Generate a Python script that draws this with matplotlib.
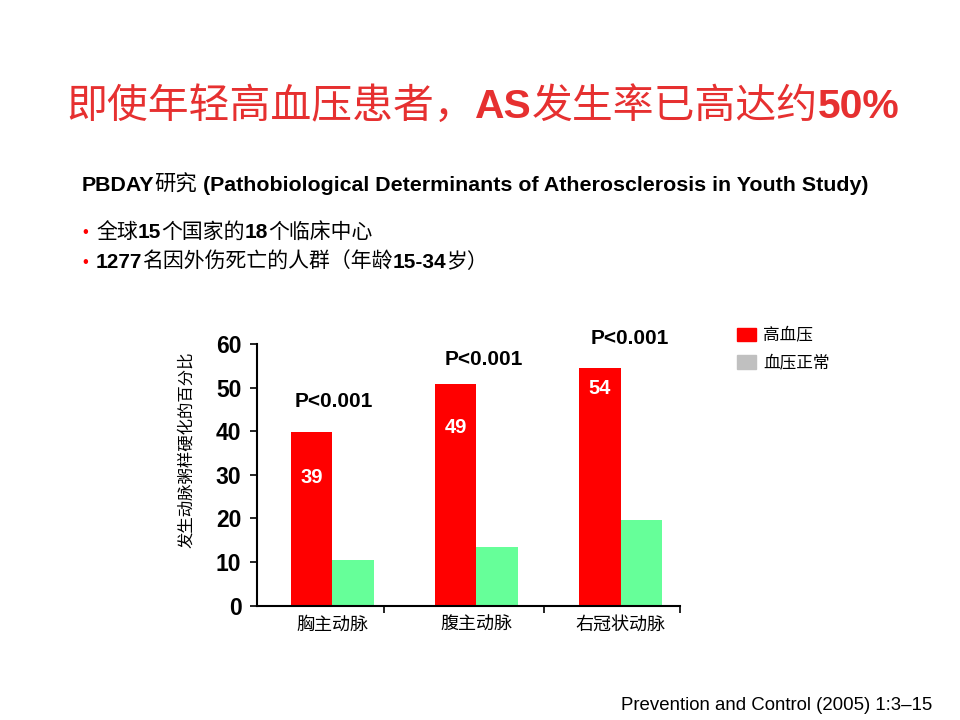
import matplotlib
matplotlib.use("Agg")
import matplotlib.pyplot as plt
import numpy as np
from matplotlib.patches import Patch

plt.rcParams['font.family'] = ['Liberation Sans', 'Noto Sans CJK SC', 'DejaVu Sans']

# data
categories = ['胸主动脉', '腹主动脉', '右冠状动脉']
hypertension = [39.8, 50.8, 54.4]
normal_bp = [10.5, 13.4, 19.6]
bar_labels = ['39', '49', '54']
p_labels = ['P<0.001', 'P<0.001', 'P<0.001']
series_names = ['高血压', '血压正常']

RED = '#ff0000'
GREEN = '#66ff99'
LEGEND_GRAY = '#c0c0c0'
TITLE_RED = '#e63030'
CJK = ['Noto Sans CJK SC', 'DejaVu Sans']
LAT = ['Liberation Sans', 'Noto Sans CJK SC']

W, H = 960, 720
fig = plt.figure(figsize=(9.6, 7.2), dpi=100)
renderer = fig.canvas.get_renderer()


def rich_text(x_px, y_px, parts, size, color='black'):
    # parts: (text, bold?) drawn one after another on the same baseline
    x = x_px
    for s, bold in parts:
        fam = LAT if bold else CJK
        t = fig.text(x / W, 1 - y_px / H, s, fontsize=size, color=color,
                     fontweight='bold' if bold else 'normal', family=fam,
                     ha='left', va='baseline')
        x += t.get_window_extent(renderer).width


# title
rich_text(66, 118, [('即使年轻高血压患者，', False), ('AS', True),
                    ('发生率已高达约', False), ('50%', True)], 29.4, TITLE_RED)

# subtitle and bullets
rich_text(82, 191, [('PBDAY', True), ('研究', False),
                    (' (Pathobiological Determinants of Atherosclerosis in Youth Study)', True)], 15.4)
fig.text(82 / W, 1 - 237 / H, '•', color=RED, fontsize=12, va='baseline', family=LAT)
rich_text(96, 238, [('全球', False), ('15', True), ('个国家的', False), ('18', True),
                    ('个临床中心', False)], 15)
fig.text(82 / W, 1 - 267 / H, '•', color=RED, fontsize=12, va='baseline', family=LAT)
rich_text(96, 268, [('1277', True), ('名因外伤死亡的人群（年龄', False), ('15-34', True),
                    ('岁）', False)], 15)

# chart
ax = fig.add_axes([0.2674, 0.1588, 0.4409, 0.3634])
x = np.arange(len(categories))
w = 0.288
ax.bar(x - w / 2, hypertension, w, color=RED, label=series_names[0])
ax.bar(x + w / 2, normal_bp, w, color=GREEN, label=series_names[1])

label_y = [29.4, 40.9, 49.7]
for xi, lab, ly in zip(x, bar_labels, label_y):
    ax.text(xi - w / 2, ly, lab, color='white', fontsize=14.5, fontweight='bold',
            ha='center', va='center')

p_pos = [(0.01, 46.8), (1.05, 56.4), (2.06, 61.3)]
for (px, py), lab in zip(p_pos, p_labels):
    ax.text(px, py, lab, fontsize=15, fontweight='bold', ha='center', va='center',
            clip_on=False)

ax.set_xlim(-0.523, 2.41)
ax.set_ylim(0, 60)
ax.set_yticks(np.arange(0, 61, 10))
ax.tick_params(axis='y', labelsize=16.5, width=1.2, length=5, direction='out', pad=6)
for lab in ax.get_yticklabels():
    lab.set_fontweight('bold')
ax.set_xticks(x)
ax.set_xticklabels(categories, family=CJK, fontsize=13)
ax.tick_params(axis='x', which='major', length=0, pad=7)
ax.set_xticks([0.36, 1.47, 2.41], minor=True)
ax.tick_params(axis='x', which='minor', length=5, width=1.2, direction='out')
for side in ['top', 'right']:
    ax.spines[side].set_visible(False)
for side in ['left', 'bottom']:
    ax.spines[side].set_linewidth(1.5)

fig.text(187 / W, 1 - 450 / H, '发生动脉粥样硬化的百分比', rotation=90, family=CJK,
         fontsize=11.8, ha='center', va='center')

handles = [Patch(color=RED), Patch(color=LEGEND_GRAY)]
fig.legend(handles, series_names, loc='upper left', bbox_to_anchor=(722 / W, 1 - 312 / H),
           frameon=False, prop={'family': CJK, 'size': 12}, handlelength=1.15,
           handleheight=0.85, handletextpad=0.4, labelspacing=0.65)

fig.text(932 / W, 1 - 705 / H, 'Prevention and Control (2005) 1:3–15', fontsize=13.4,
         ha='right', va='center', family=LAT)

fig.savefig('out.png', dpi=100)
